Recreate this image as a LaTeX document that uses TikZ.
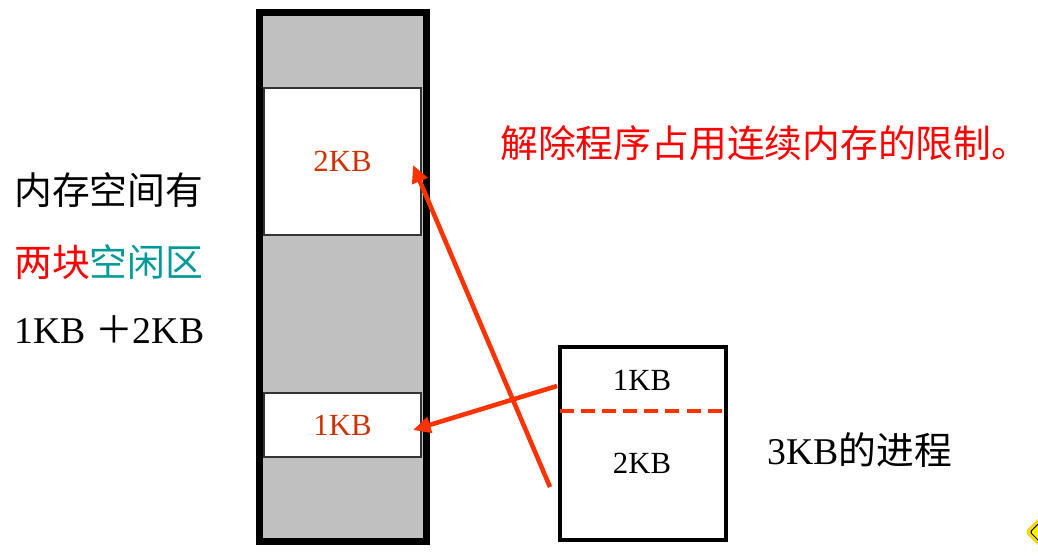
\documentclass[tikz,border=0pt]{standalone}
\usepackage{fontspec}
\setmainfont{Liberation Serif}
\newfontfamily\cjk{Noto Sans CJK SC}
\usetikzlibrary{arrows.meta}
\definecolor{arrowred}{RGB}{255,51,0}
\definecolor{memtxt}{RGB}{204,51,0}
\definecolor{freeteal}{RGB}{0,153,153}
\definecolor{memgray}{RGB}{192,192,192}
\begin{document}
\begin{tikzpicture}[x=0.02cm,y=-0.02cm, every node/.style={inner sep=0pt},
	big/.style={font=\fontsize{21.5}{25}\selectfont},
	small/.style={font=\fontsize{17.5}{20}\selectfont},
	blk/.style={draw=black!80, line width=0.8pt, fill=white, minimum width=3.14cm, small, text=memtxt},
	arr/.style={arrowred, line width=2.6pt, -{Triangle[length=10pt,width=9pt]}}]
		\useasboundingbox (0,0) rectangle (1038,555);
		
		% memory column
		\node (M) [draw, line width=4pt, fill=memgray, minimum width=3.34cm, minimum height=10.6cm] at (343,277) {};
		\node (F2) [blk, minimum height=2.94cm] at (342.5,161.5) {2KB};
		\node (F1) [blk, minimum height=1.28cm] at (342.5,425) {1KB};
		
		% left text
		\node (A) [big, anchor=west] at (14,190) {\cjk 内存空间有};
		\node (B) [big, anchor=west] at (14,262) {\cjk{\color{red}两块}{\color{freeteal}空闲区}};
		\node (C) [big, anchor=west] at (14,330) {1KB {\cjk ＋}2KB};
		
		\node (T) [big, anchor=west, text=red] at (500,143) {\cjk 解除程序占用连续内存的限制。};
		
		% process
		\node (P) [draw, line width=2.2pt, minimum width=3.32cm, minimum height=3.86cm] at (643,443.5) {};
		\coordinate (L) at (560,411);
		\coordinate (R) at (726,411);
		\draw[arrowred, line width=2.2pt, dash pattern=on 8pt off 4pt] (L) -- (R);
		\node (P1) [small] at (642,380) {1KB};
		\node (P2) [small] at (642,463) {2KB};
		\node (D) [big, anchor=west] at (767,450) {3KB{\cjk 的进程}};
		
		\coordinate (S1) at (557,386);
		\coordinate (E1) at (413,430);
		\coordinate (S2) at (550,487);
		\coordinate (E2) at (413,165);
		\draw[arr] (S1) -- (E1);
		\draw[arr] (S2) -- (E2);
		
		% corner icon
		\draw[fill=yellow, draw=yellow!70!orange, line width=1pt, rounded corners=2] (1041,517) -- (1056,532) -- (1041,547) -- (1026,532) -- cycle;
		\draw[black, line width=0.6pt, rounded corners=1] (1041,521) -- (1052,532) -- (1041,543) -- (1030,532) -- cycle;
		
	\end{tikzpicture}
\end{document}
